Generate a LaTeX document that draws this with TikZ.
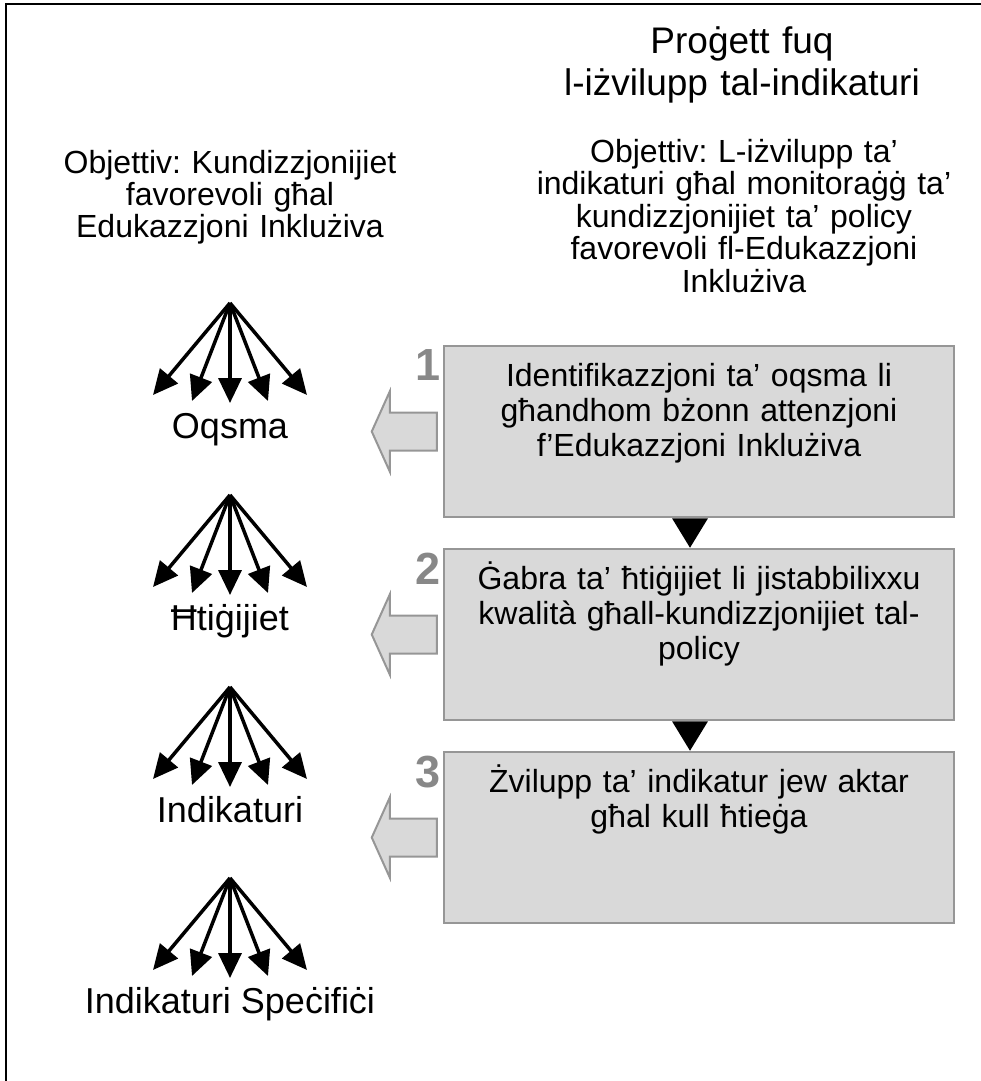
\documentclass[tikz,border=0pt]{standalone}
\usepackage{fontspec}
\setmainfont{Liberation Sans}
\frenchspacing
\usetikzlibrary{arrows.meta}
\definecolor{boxgray}{HTML}{D9D9D9}
\definecolor{edgegray}{HTML}{969696}
\definecolor{numgray}{HTML}{888888}

\begin{document}
\begin{tikzpicture}[x=1pt, y=-1pt,
    stagebox/.style={draw=edgegray, fill=boxgray, line width=2.5pt, minimum width=510pt, minimum height=171pt, inner sep=0pt},
    stagetext/.style={text width=500pt, align=center, inner sep=0pt, anchor=base, font=\fontsize{32}{35}\selectfont},
    stagenum/.style={text=numgray, inner sep=0pt, anchor=north east, font=\fontsize{45}{45}\selectfont\bfseries},
    backarrow/.style={draw=edgegray, fill=boxgray, line width=2pt, line join=miter},
    pointer/.style={fill=black},
    fanarrow/.style={line width=3.5pt, -{Triangle[length=25pt, width=23pt]}},
    catlabel/.style={inner sep=0pt, anchor=base, font=\fontsize{36}{40}\selectfont},
    heading/.style={align=center, inner sep=0pt, anchor=base}]
    \useasboundingbox (0,0) rectangle (981,1081);
    \draw[line width=2pt] (6,1085) -- (6,4) -- (985,4);

    \node[heading, text width=440pt, font=\fontsize{37}{42}\selectfont] (title) at (742,53) {Proġett fuq\\l-iżvilupp tal-indikaturi};
    \node[heading, text width=440pt, font=\fontsize{32}{32.5}\selectfont] (goalright) at (744,162)
        {Objettiv: L-iżvilupp ta’\\indikaturi għal monitoraġġ ta’\\kundizzjonijiet ta’ policy\\favorevoli fl-Edukazzjoni\\Inklużiva};
    \node[heading, text width=400pt, font=\fontsize{32}{32}\selectfont] (goalleft) at (230,173)
        {Objettiv: Kundizzjonijiet\\favorevoli għal\\Edukazzjoni Inklużiva};

    \foreach \k/\cy/\txt in {1/431.5/{Identifikazzjoni ta’ oqsma li\\għandhom bżonn attenzjoni\\f’Edukazzjoni Inklużiva},
                             2/634.5/{Ġabra ta’ ħtiġijiet li jistabbilixxu\\kwalità għall-kundizzjonijiet tal-\\policy},
                             3/837.5/{Żvilupp ta’ indikatur jew aktar\\għal kull ħtieġa}} {
        \node[stagebox] (stage\k) at (699,\cy) {};
        \node[stagetext] (stagetxt\k) at ([yshift=-42pt]stage\k.north) {\txt};
        \node[stagenum] (num\k) at ([xshift=-2pt, yshift=-5pt]stage\k.north west) {\k};
        \draw[backarrow] ([xshift=-6pt]stage\k.west) ++(0,-19) -- ++(-47,0) -- ++(0,-21) -- ++(-18,40)
            -- ++(18,40) -- ++(0,-21) -- ++(47,0) -- cycle;
    }
    \foreach \k/\n in {1/2, 2/3}
        \fill[pointer] ([xshift=-27pt]stage\k.south) -- ([xshift=9pt]stage\k.south) -- ([xshift=-9pt]stage\n.north) -- cycle;

    \foreach \k/\ay/\name in {1/303/Oqsma, 2/495/Ħtiġijiet, 3/687/Indikaturi, 4/878/{Indikaturi Speċifiċi}} {
        \coordinate (fan\k) at (230,\ay);
        \foreach \dx/\dy in {-77/92, -38/98, 0/100, 38/98, 77/92}
            \draw[fanarrow] (fan\k) -- ++(\dx,\dy);
        \node[catlabel] (cat\k) at ([yshift=-135pt]fan\k) {\name};
    }
\end{tikzpicture}
\end{document}
